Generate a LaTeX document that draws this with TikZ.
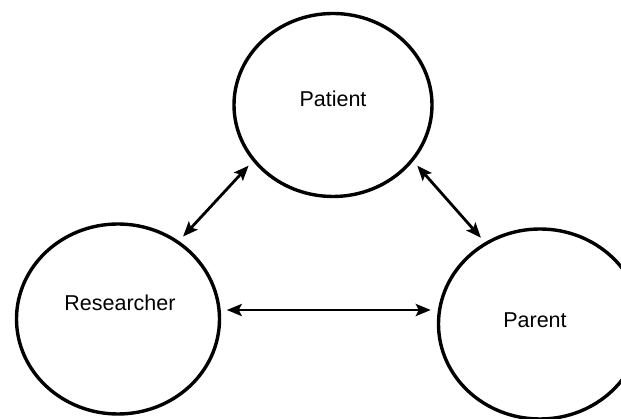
\documentclass[tikz,border=0pt]{standalone}
\usepackage{fontspec}
\setmainfont{Liberation Sans}
\usetikzlibrary{arrows.meta}
\usetikzlibrary{shapes.geometric}
\tikzset{>={Stealth[width=12pt,length=15pt,inset=3pt]}}

\begin{document}
\begin{tikzpicture}[x=1pt,y=1pt,
  party/.style={draw, ellipse, line width=3.4pt, inner sep=0pt},
  link/.style={<->, line width=2.8pt, shorten <=6pt, shorten >=6pt},
  who/.style={font=\fontsize{21.5}{26}\selectfont}]

  \useasboundingbox (0,0) rectangle (621,419);

  \coordinate (patC) at (333,314);
  \coordinate (resC) at (118,100);
  \coordinate (parC) at (540,95);

  \node[party, minimum width=198pt, minimum height=183pt] (pat) at (patC) {};
  \node[party, minimum width=203pt, minimum height=190pt] (res) at (resC) {};
  \node[party, minimum width=203pt, minimum height=190pt] (par) at (parC) {};

  \node[who] (patT) at (333,320) {Patient};
  \node[who] (resT) at (120,116) {Researcher};
  \node[who] (parT) at (535,99) {Parent};

  \draw[link] (pat.215) -- (res.52);
  \draw[link] (pat.325) -- (par.124);
  \draw[link] (res.5) -- (res.5 -| par.west);

\end{tikzpicture}
\end{document}
